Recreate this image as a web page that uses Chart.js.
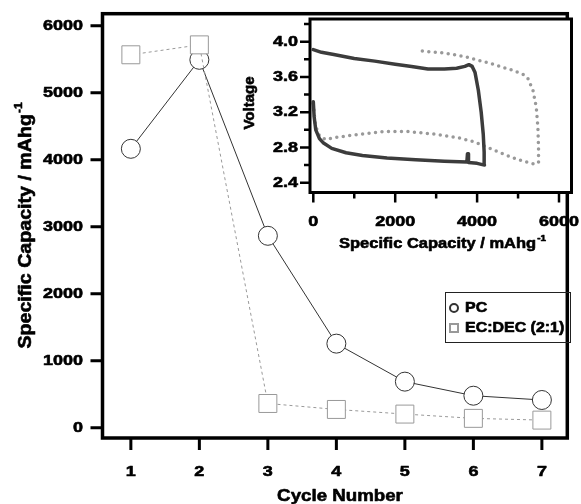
<!DOCTYPE html>
<html>
<head>
<meta charset="utf-8">
<script src="https://cdn.jsdelivr.net/npm/chart.js@4.4.0/dist/chart.umd.min.js"></script>
<style>
  html, body { margin: 0; padding: 0; background: #fff; }
  #wrap { position: relative; width: 581px; height: 504px; }
  #wrap canvas { position: absolute; left: 0; top: 0; }
</style>
</head>
<body>
<div id="wrap">
  <canvas id="mainChart" width="581" height="504"></canvas>
  <canvas id="insetChart" width="581" height="504"></canvas>
</div>
<script>
// main panel: specific capacity per cycle
const cycles = [1, 2, 3, 4, 5, 6, 7];
const pcCapacity = [4162, 5490, 2864, 1255, 688, 478, 414];
const ecCapacity = [5565, 5713, 362, 273, 204, 140, 114];
const seriesNames = ['PC', 'EC:DEC (2:1)'];
const capacityTicks = [0, 1000, 2000, 3000, 4000, 5000, 6000];

// inset: voltage profile of the first cycle
const pcProfileCap = [0, 20, 60, 150, 250, 450, 800, 1200, 1800, 2500, 3200, 3750, 3765, 3780, 3790, 4000, 4180,
  4172, 4150, 4100, 4030, 3950, 3880, 3800, 3700, 3500, 3200, 2800, 2400, 2000, 1500, 1000, 500, 200, 0];
const pcProfileVolt = [3.32, 3.15, 3.0, 2.9, 2.85, 2.79, 2.74, 2.71, 2.68, 2.66, 2.645, 2.635, 2.73, 2.73, 2.63, 2.62, 2.6,
  2.75, 2.95, 3.2, 3.45, 3.65, 3.72, 3.74, 3.72, 3.7, 3.69, 3.69, 3.72, 3.745, 3.78, 3.81, 3.855, 3.88, 3.91];
const ecProfileCap = [0, 50, 150, 300, 484, 1129, 1694, 2339, 2984, 3548, 3952, 4355, 4839, 5161, 5403, 5500,
  5500, 5484, 5444, 5363, 5242, 5121, 4839, 4355, 3710, 3226, 2540];
const ecProfileVolt = [3.3, 3.05, 2.93, 2.89, 2.91, 2.95, 2.98, 2.98, 2.95, 2.91, 2.86, 2.78, 2.69, 2.64, 2.61, 2.63,
  2.8, 3.03, 3.26, 3.45, 3.58, 3.63, 3.68, 3.75, 3.83, 3.87, 3.9];
const insetCapTicks = [0, 2000, 4000, 6000];
const insetCapMinor = [1000, 3000, 5000];
const voltTicks = [2.4, 2.8, 3.2, 3.6, 4.0];
const voltMinor = [2.6, 3.0, 3.4, 3.8, 4.2];

const FONT = '"Liberation Sans", Arial, sans-serif';

// bold text, a bit heavier than the plain font and stretched sideways
function paint(ctx, str, x, y) {
  ctx.lineWidth = 0.6;
  ctx.strokeStyle = '#000';
  ctx.lineJoin = 'round';
  ctx.strokeText(str, x, y);
  ctx.fillText(str, x, y);
}

function drawText(ctx, str, x, y, size, align, sx, rot) {
  ctx.save();
  ctx.translate(x, y);
  if (rot) ctx.rotate(rot);
  ctx.scale(sx, 1);
  ctx.font = 'bold ' + size + 'px ' + FONT;
  ctx.textAlign = align;
  ctx.textBaseline = 'middle';
  ctx.fillStyle = '#000';
  paint(ctx, str, 0, 0);
  ctx.restore();
}

// axis title ending in a "-1" superscript, centred on x, baseline on y
function drawUnitTitle(ctx, str, x, y, size, sx, rot) {
  const big = 'bold ' + size + 'px ' + FONT;
  const small = 'bold ' + Math.round(size * 0.62) + 'px ' + FONT;
  ctx.save();
  ctx.translate(x, y);
  if (rot) ctx.rotate(rot);
  ctx.scale(sx, 1);
  ctx.fillStyle = '#000';
  ctx.textAlign = 'left';
  ctx.textBaseline = 'alphabetic';
  ctx.font = big;
  const w1 = ctx.measureText(str).width;
  ctx.font = small;
  const w2 = ctx.measureText('-1').width;
  const x0 = -(w1 + w2) / 2;
  ctx.font = big;
  paint(ctx, str, x0, 0);
  ctx.font = small;
  paint(ctx, '-1', x0 + w1 + 1, -size * 0.48);
  ctx.restore();
}

const axesPlugin = {
  id: 'axesBox',
  beforeDatasetsDraw(chart, args, o) {
    if (!o.fill) return;
    const a = chart.chartArea, ctx = chart.ctx;
    ctx.save();
    ctx.fillStyle = '#fff';
    ctx.fillRect(a.left, a.top, a.right - a.left, a.bottom - a.top);
    ctx.restore();
  },
  afterDatasetsDraw(chart, args, o) {
    const ctx = chart.ctx, a = chart.chartArea;
    const xs = chart.scales.x, ys = chart.scales.y;
    ctx.save();
    ctx.strokeStyle = '#000';
    ctx.lineCap = 'butt';
    ctx.lineWidth = o.tickWidth;
    ctx.beginPath();
    o.xTicks.forEach(v => {
      const px = xs.getPixelForValue(v);
      ctx.moveTo(px, a.bottom); ctx.lineTo(px, a.bottom + o.tickLen);
    });
    (o.xMinor || []).forEach(v => {
      const px = xs.getPixelForValue(v);
      ctx.moveTo(px, a.bottom); ctx.lineTo(px, a.bottom + o.minorLen);
    });
    o.yTicks.forEach(v => {
      const py = ys.getPixelForValue(v);
      ctx.moveTo(a.left, py); ctx.lineTo(a.left - o.tickLen, py);
    });
    (o.yMinor || []).forEach(v => {
      const py = ys.getPixelForValue(v);
      ctx.moveTo(a.left, py); ctx.lineTo(a.left - o.minorLen, py);
    });
    ctx.stroke();
    ctx.lineWidth = o.frameWidth;
    ctx.strokeRect(a.left, a.top, a.right - a.left, a.bottom - a.top);
    ctx.restore();

    o.xTicks.forEach(v => drawText(ctx, o.xFormat(v), xs.getPixelForValue(v), a.bottom + o.xLabelGap, o.tickFont, 'center', o.sx));
    o.yTicks.forEach(v => drawText(ctx, o.yFormat(v), a.left - o.yLabelGap, ys.getPixelForValue(v), o.tickFont, 'right', o.sx));

    o.titles.forEach(t => {
      if (t.unit) drawUnitTitle(ctx, t.text, t.x, t.y, t.size, t.sx, t.rot);
      else drawText(ctx, t.text, t.x, t.y, t.size, 'center', t.sx, t.rot);
    });

    if (o.legend) {
      const L = o.legend;
      ctx.save();
      ctx.strokeStyle = '#222';
      ctx.lineWidth = 1;
      ctx.strokeRect(L.x + 0.5, L.y + 0.5, L.w, L.h);
      chart.data.datasets.forEach((ds, i) => {
        const cy = L.y + L.firstRow + i * L.rowGap;
        const cx = L.x + 9;
        ctx.strokeStyle = ds.pointBorderColor;
        ctx.lineWidth = 2;
        ctx.fillStyle = '#fff';
        ctx.beginPath();
        if (ds.pointStyle === 'circle') ctx.arc(cx, cy, 4, 0, Math.PI * 2);
        else ctx.rect(cx - 4, cy - 4, 8, 8);
        ctx.fill();
        ctx.stroke();
        ctx.save();
        ctx.translate(L.x + 20, cy);
        ctx.scale(L.sx, 1);
        ctx.font = 'bold ' + L.size + 'px ' + FONT;
        ctx.fillStyle = '#000';
        ctx.textBaseline = 'middle';
        paint(ctx, ds.label, 0, 0);
        ctx.restore();
      });
      ctx.restore();
    }
  }
};

function toXY(xs, ys) {
  return xs.map((x, i) => ({ x: x, y: ys[i] }));
}

new Chart(document.getElementById('mainChart'), {
  type: 'line',
  data: {
    datasets: [{
      label: seriesNames[0],
      data: toXY(cycles, pcCapacity),
      borderColor: '#333',
      borderWidth: 1,
      pointStyle: 'circle',
      pointRadius: 9.5,
      pointBackgroundColor: '#fff',
      pointBorderColor: '#333',
      pointBorderWidth: 1,
      tension: 0,
      order: 1
    }, {
      label: seriesNames[1],
      data: toXY(cycles, ecCapacity),
      borderColor: '#999',
      borderWidth: 1,
      borderDash: [3, 3],
      pointStyle: 'rect',
      pointRadius: 12.7,
      pointBackgroundColor: '#fff',
      pointBorderColor: '#999',
      pointBorderWidth: 1,
      tension: 0,
      order: 0
    }]
  },
  options: {
    responsive: false,
    animation: false,
    events: [],
    layout: { padding: { left: 102.5, top: 12, right: 3.5, bottom: 66 } },
    scales: {
      x: { type: 'linear', display: false, min: 0.586, max: 7.371 },
      y: { type: 'linear', display: false, min: -153, max: 6178 }
    },
    plugins: {
      legend: { display: false },
      tooltip: { enabled: false },
      axesBox: {
        frameWidth: 3.5, tickWidth: 3, tickLen: 12, minorLen: 0,
        xTicks: cycles, yTicks: capacityTicks,
        xFormat: v => String(v), yFormat: v => String(v),
        xLabelGap: 33.5, yLabelGap: 19.5, tickFont: 15, sx: 1.2,
        titles: [
          { text: 'Cycle Number', x: 340, y: 496, size: 17, sx: 1.1 },
          { text: 'Specific Capacity / mAhg', unit: true, x: 31, y: 226, size: 18, sx: 1.09, rot: -Math.PI / 2 }
        ],
        legend: { x: 445, y: 292, w: 125, h: 50, firstRow: 16, rowGap: 20, size: 14, sx: 1.14 }
      }
    }
  },
  plugins: [axesPlugin]
});

new Chart(document.getElementById('insetChart'), {
  type: 'line',
  data: {
    datasets: [{
      label: seriesNames[0],
      data: toXY(pcProfileCap, pcProfileVolt),
      borderColor: '#3c3c3c',
      borderWidth: 3.5,
      borderJoinStyle: 'round',
      borderCapStyle: 'round',
      pointRadius: 0,
      tension: 0,
      order: 0
    }, {
      label: seriesNames[1],
      data: toXY(ecProfileCap, ecProfileVolt),
      borderColor: '#999',
      borderWidth: 3.5,
      borderDash: [0, 6.5],
      borderCapStyle: 'round',
      pointRadius: 0,
      tension: 0,
      order: 1
    }]
  },
  options: {
    responsive: false,
    animation: false,
    events: [],
    layout: { padding: { left: 310, top: 19, right: 9.5, bottom: 311.5 } },
    scales: {
      x: { type: 'linear', display: false, min: -80.6, max: 6305 },
      y: { type: 'linear', display: false, min: 2.289, max: 4.258 }
    },
    plugins: {
      legend: { display: false },
      tooltip: { enabled: false },
      axesBox: {
        fill: true,
        frameWidth: 3, tickWidth: 2.5, tickLen: 10, minorLen: 6,
        xTicks: insetCapTicks, xMinor: insetCapMinor,
        yTicks: voltTicks, yMinor: voltMinor,
        xFormat: v => String(v), yFormat: v => v.toFixed(1),
        xLabelGap: 29, yLabelGap: 12, tickFont: 15, sx: 1.2,
        titles: [
          { text: 'Voltage', x: 250, y: 103, size: 15, sx: 1.0, rot: -Math.PI / 2 },
          { text: 'Specific Capacity / mAhg', unit: true, x: 442, y: 248, size: 15, sx: 1.1 }
        ]
      }
    }
  },
  plugins: [axesPlugin]
});
</script>
</body>
</html>
